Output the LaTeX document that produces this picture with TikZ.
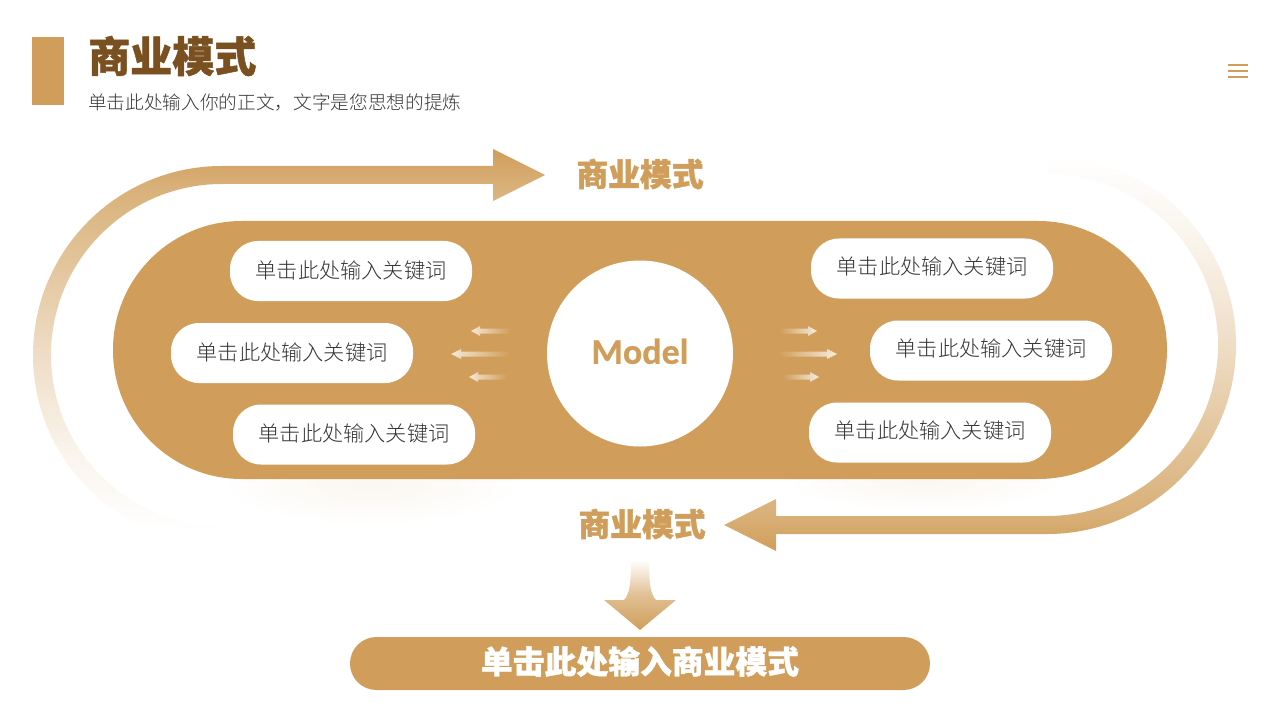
\documentclass[tikz,border=0pt]{standalone}
\usepackage{fontspec}
\usepackage{xcolor}
\usetikzlibrary{positioning}
\newfontfamily\cjkfont{Noto Sans CJK SC Light}
\newfontfamily\cjkheavy[FakeBold=1.2]{Noto Sans CJK SC Black}
\newfontfamily\modelfont[FakeBold=0.6]{Carlito Bold}
\definecolor{gold}{HTML}{D09E5A}
\definecolor{brown}{HTML}{7A5020}
\definecolor{bodygray}{HTML}{363636}
\pgfdeclareverticalshading{fadedown}{100bp}{color(0bp)=(white); color(26.5bp)=(white); color(37bp)=(gold!12!white); color(49bp)=(gold!35!white); color(70.5bp)=(gold!82!white); color(75bp)=(gold); color(100bp)=(gold)}
\pgfdeclareverticalshading{fadeup}{100bp}{color(0bp)=(gold); color(25bp)=(gold); color(29.5bp)=(gold!82!white); color(51bp)=(gold!35!white); color(64bp)=(gold!12!white); color(75bp)=(white); color(100bp)=(white)}

\begin{document}
\begin{tikzpicture}[
  x=0.75pt, y=-0.75pt,
  keybox/.style={fill=white, rounded corners=21pt, minimum width=181.5pt, minimum height=45pt, inner sep=0pt,
    text=bodygray, font=\cjkfont\fontsize{15.9pt}{20pt}\selectfont},
  heading/.style={inner sep=0pt, text=gold, font=\cjkheavy\fontsize{23.85pt}{28pt}\selectfont},
  tipleft/.style={left color=gold!25!white, right color=gold},
  tipright/.style={left color=gold, right color=gold!20!white}
]
\useasboundingbox (0,0) rectangle (1280,720);

% header
\fill[gold] (32,37) rectangle (64,105);
\node[anchor=west, inner sep=0pt, text=brown, font=\cjkheavy\fontsize{31.5pt}{36pt}\selectfont] (title) at (88,56) {商业模式};
\node[anchor=west, inner sep=0pt, text=bodygray, font=\cjkfont\fontsize{14pt}{18pt}\selectfont] (subtitle) at (88,102) {单击此处输入你的正文，文字是您思想的提炼};
\draw[gold, line width=1.5pt] (1228,65) -- (1248,65);
\draw[gold, line width=1.5pt] (1228,71) -- (1248,71);
\draw[gold, line width=1.5pt] (1228,77) -- (1248,77);

% soft shadows under the band
\shade[inner color=gold!9!white, outer color=white] (370,485) ellipse (150 and 40);
\shade[inner color=gold!9!white, outer color=white] (925,480) ellipse (140 and 32);

% big arrows
\shade[shading=fadedown]
  (222,544) arc[start angle=90, end angle=270, radius=189] -- (493,166) -- (493,149) -- (545,175) -- (493,201)
  -- (493,184) -- (222,184) arc[start angle=270, end angle=90, radius=171] -- cycle;
\shade[shading=fadeup]
  (1047,156) arc[start angle=270, end angle=450, radius=189] -- (776,534) -- (776,551) -- (724,525) -- (776,499)
  -- (776,516) -- (1047,516) arc[start angle=90, end angle=-90, radius=171] -- cycle;

% band and its content
\node[fill=gold, rounded corners=96.6pt, minimum width=790.5pt, minimum height=193.5pt, inner sep=0pt] (band) at (640,350) {};
\node[circle, fill=white, minimum size=139.5pt, inner sep=0pt, text=gold, font=\modelfont\fontsize{27pt}{30pt}\selectfont] (model) at (640,353.5) {\raisebox{3.5pt}{Model}};

\node[keybox] (keya) at (351,271) {\raisebox{1.5pt}{单击此处输入关键词}};
\node[keybox] (keyb) at (292,353) {\raisebox{1.5pt}{单击此处输入关键词}};
\node[keybox] (keyc) at (354,434.5) {\raisebox{2.5pt}{单击此处输入关键词}};
\node[keybox] (keyd) at (932,268.5) {\raisebox{4.5pt}{单击此处输入关键词}};
\node[keybox] (keye) at (991,350.5) {\raisebox{4.5pt}{单击此处输入关键词}};
\node[keybox] (keyf) at (930,432.5) {\raisebox{4.5pt}{单击此处输入关键词}};

% small arrows
\shade[tipleft] (510,328.5) -- (480,328.5) -- (480,326) -- (471,331) -- (480,336) -- (480,333.5) -- (510,333.5) -- cycle;
\shade[tipleft] (510,351.5) -- (461,351.5) -- (461,349) -- (451,354) -- (461,359) -- (461,356.5) -- (510,356.5) -- cycle;
\shade[tipleft] (507,374.5) -- (478,374.5) -- (478,372) -- (469,377) -- (478,382) -- (478,379.5) -- (507,379.5) -- cycle;
\shade[tipright] (780,328.5) -- (808,328.5) -- (808,326) -- (817,331) -- (808,336) -- (808,333.5) -- (780,333.5) -- cycle;
\shade[tipright] (778,351.5) -- (827,351.5) -- (827,349) -- (837,354) -- (827,359) -- (827,356.5) -- (778,356.5) -- cycle;
\shade[tipright] (783,374.5) -- (810,374.5) -- (810,372) -- (819,377) -- (810,382) -- (810,379.5) -- (783,379.5) -- cycle;

% labels and result
\node[heading] (labeltop) at (640,174) {商业模式};
\node[heading] (labelbottom) at (642,524) {商业模式};

\shade[top color=white, bottom color=gold, middle color=gold!65!white]
  (631,560) -- (649,560) .. controls (649,585) and (651,595) .. (656,600) -- (676,600) -- (640,630) -- (604,600) -- (624,600)
  .. controls (629,595) and (631,585) .. (631,560) -- cycle;

\node[fill=gold, rounded corners=19.8pt, minimum width=435pt, minimum height=39.75pt, inner sep=0pt, text=white,
  font=\cjkheavy\fontsize{23.85pt}{30pt}\selectfont] (result) at (640,663.5) {\raisebox{5.5pt}{单击此处输入商业模式}};

\end{tikzpicture}
\end{document}
